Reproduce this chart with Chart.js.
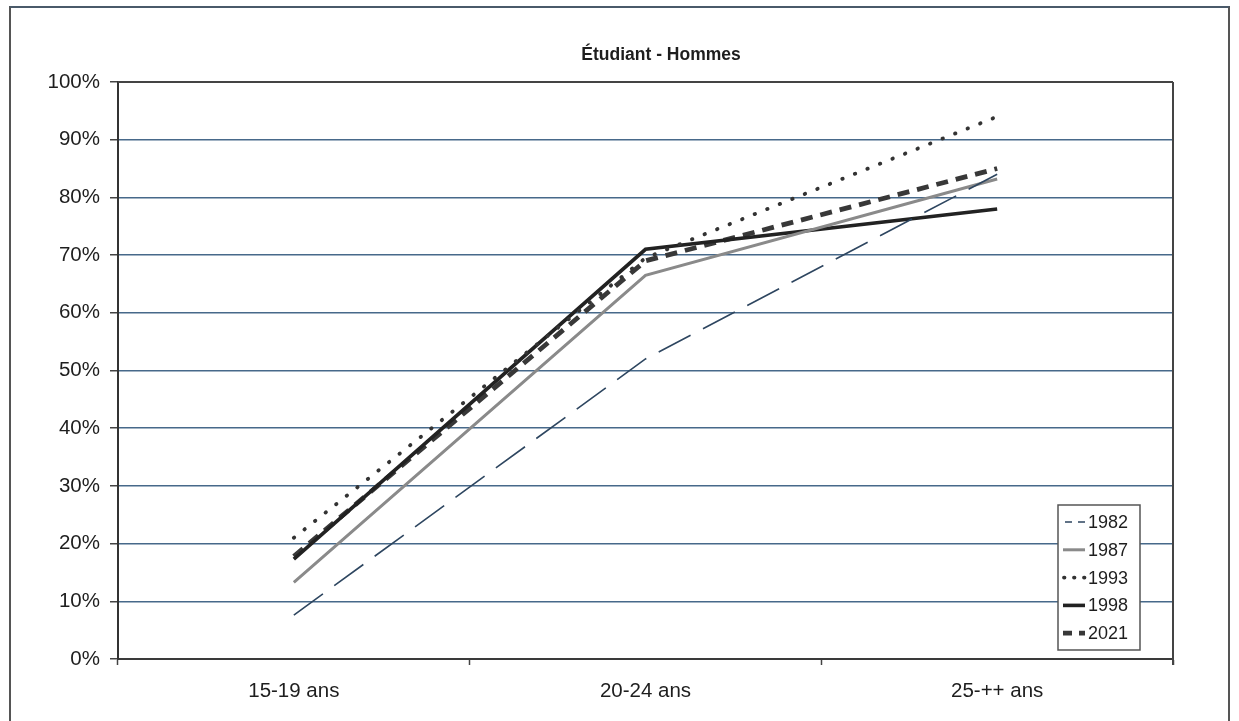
<!DOCTYPE html>
<html>
<head>
<meta charset="utf-8">
<script src="https://cdn.jsdelivr.net/npm/chart.js@4.4.1/dist/chart.umd.min.js"></script>
<style>
  html, body { margin: 0; padding: 0; background: #fff; overflow: hidden; }
  #wrap { position: relative; width: 1239px; height: 721px; }
  #frame { position: absolute; left: 9px; top: 6px; width: 1221px; height: 730px; border: 2px solid #555; box-sizing: border-box; border-color: #4a5a6a #555 #555 #555; }
  canvas { position: absolute; left: 0; top: 0; }
</style>
</head>
<body>
<div id="wrap">
  <div id="frame"></div>
  <canvas id="c" width="1239" height="721"></canvas>
</div>
<script>
const TITLE = 'Étudiant - Hommes';
const categories = ['15-19 ans', '20-24 ans', '25-++ ans'];
const seriesNames = ['1982', '1987', '1993', '1998', '2021'];
const values1982 = [7.6, 52, 84];
const values1987 = [13.3, 66.5, 83.2];
const values1993 = [21, 69.5, 94];
const values1998 = [17.3, 71, 78];
const values2021 = [17.8, 69, 85];
const yTicks = [0, 10, 20, 30, 40, 50, 60, 70, 80, 90, 100];

const FONT = "'Liberation Sans', Arial, sans-serif";

const styles = [
  { color: '#2e4660', width: 1.6, dash: [36, 14], cap: 'butt' },
  { color: '#8a8a8a', width: 3, dash: [], cap: 'butt' },
  { color: '#333', width: 3.8, dash: [0.5, 13], cap: 'round' },
  { color: '#222', width: 3.6, dash: [], cap: 'butt' },
  { color: '#383838', width: 4.8, dash: [12, 8], cap: 'butt' }
];
const allValues = [values1982, values1987, values1993, values1998, values2021];

const datasets = seriesNames.map((n, i) => ({
  label: n,
  data: allValues[i],
  borderColor: styles[i].color,
  borderWidth: styles[i].width,
  borderDash: styles[i].dash,
  borderCapStyle: styles[i].cap,
  pointRadius: 0,
  pointHoverRadius: 0,
  tension: 0,
  fill: false
}));

const framePlugin = {
  id: 'framePlugin',
  beforeDatasetsDraw(chart) {
    const a = chart.chartArea, ctx = chart.ctx;
    ctx.save();
    ctx.strokeStyle = '#444';
    ctx.lineWidth = 2;
    ctx.beginPath();
    ctx.moveTo(a.left, a.top);
    ctx.lineTo(a.right, a.top);
    ctx.moveTo(a.right, a.top);
    ctx.lineTo(a.right, a.bottom + 6);
    ctx.stroke();
    ctx.restore();
  },
  afterDraw(chart) {
    const a = chart.chartArea, ctx = chart.ctx;
    ctx.save();
    // title
    ctx.fillStyle = '#1e1e1e';
    ctx.font = "bold 17.5px " + FONT;
    ctx.textAlign = 'center';
    ctx.textBaseline = 'middle';
    ctx.fillText(TITLE, 661, 55);
    // legend
    const bx = a.right - 115, by = a.bottom - 154, bw = 82, bh = 145;
    ctx.fillStyle = '#fff';
    ctx.fillRect(bx, by, bw, bh);
    ctx.strokeStyle = '#555';
    ctx.lineWidth = 1.5;
    ctx.strokeRect(bx, by, bw, bh);
    ctx.font = "18px " + FONT;
    ctx.textAlign = 'left';
    ctx.fillStyle = '#1e1e1e';
    seriesNames.forEach((n, i) => {
      const y = by + 17 + i * 27.8;
      const s = styles[i];
      ctx.strokeStyle = s.color;
      ctx.lineWidth = s.width;
      ctx.lineCap = s.cap;
      let x0 = bx + 5, x1 = bx + 27;
      if (i === 0) { ctx.setLineDash([7, 6]); ctx.lineDashOffset = -2; }
      else if (i === 2) { ctx.setLineDash([0.5, 9.5]); ctx.lineDashOffset = 0; x0 = bx + 6; }
      else if (i === 4) { ctx.setLineDash([9, 7]); ctx.lineDashOffset = 0; }
      else { ctx.setLineDash([]); }
      ctx.beginPath();
      ctx.moveTo(x0, y);
      ctx.lineTo(x1, y);
      ctx.stroke();
      ctx.setLineDash([]);
      ctx.fillText(n, bx + 30, y + 1);
    });
    ctx.restore();
  }
};

new Chart(document.getElementById('c'), {
  type: 'line',
  data: { labels: categories, datasets },
  plugins: [framePlugin],
  options: {
    responsive: false,
    animation: false,
    events: [],
    layout: { padding: { top: 82, right: 66, bottom: 0, left: 0 } },
    plugins: {
      legend: { display: false },
      title: { display: false },
      tooltip: { enabled: false }
    },
    scales: {
      x: {
        type: 'category',
        offset: true,
        grid: {
          offset: true,
          drawOnChartArea: false,
          drawTicks: true,
          tickLength: 6,
          tickColor: '#444',
          tickWidth: 1.5
        },
        border: { display: true, color: '#3a3a3a', width: 2 },
        ticks: {
          color: '#1e1e1e',
          font: { family: FONT, size: 20.5 },
          padding: 14,
          maxRotation: 0
        },
        afterFit(scale) { scale.height = 62; }
      },
      y: {
        min: 0,
        max: 100,
        afterBuildTicks(scale) { scale.ticks = yTicks.map(v => ({ value: v })); },
        grid: {
          color: '#47698a',
          lineWidth: 1.5,
          drawTicks: true,
          tickLength: 8,
          tickColor: '#444',
          tickWidth: 1.5
        },
        border: { display: true, color: '#333', width: 2 },
        ticks: {
          color: '#1e1e1e',
          font: { family: FONT, size: 20.5 },
          padding: 10,
          callback: v => v + '%'
        },
        afterFit(scale) { scale.width = 118; }
      }
    }
  }
});
</script>
</body>
</html>
